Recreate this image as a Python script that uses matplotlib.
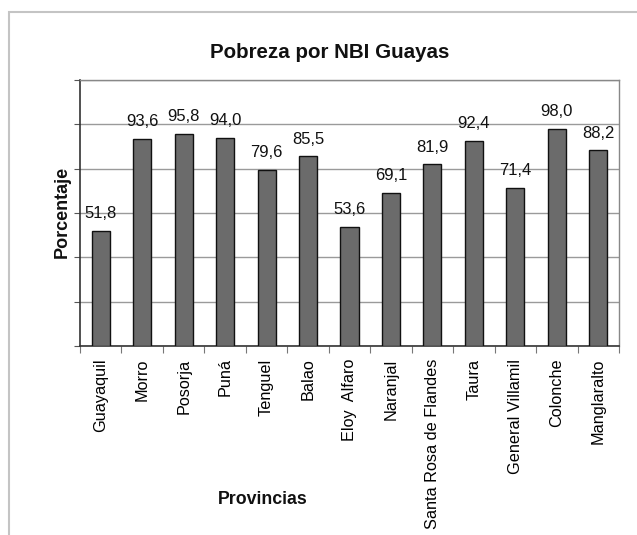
import matplotlib
matplotlib.use("Agg")
import matplotlib.pyplot as plt
from matplotlib.patches import Rectangle
import numpy as np

plt.rcParams['font.family'] = ['Liberation Sans', 'DejaVu Sans']

categorias = ["Guayaquil", "Morro", "Posorja", "Puná", "Tenguel", "Balao",
              "Eloy  Alfaro", "Naranjal", "Santa Rosa de Flandes", "Taura",
              "General Villamil", "Colonche", "Manglaralto"]
valores = [51.8, 93.6, 95.8, 94.0, 79.6, 85.5, 53.6, 69.1, 81.9, 92.4, 71.4, 98.0, 88.2]
etiquetas = ["51,8", "93,6", "95,8", "94,0", "79,6", "85,5", "53,6", "69,1",
             "81,9", "92,4", "71,4", "98,0", "88,2"]

W, H = 637, 535
fig = plt.figure(figsize=(W / 100, H / 100), dpi=100)
fig.patch.set_facecolor("white")

# outer chart border
fig.patches.append(Rectangle((9 / W, -0.05), 1.2, 1 - 12 / H + 0.05,
                             transform=fig.transFigure, fill=False,
                             edgecolor="#c4c4c4", lw=1.5, zorder=0))

left, right, top, bottom = 80, 619, 80, 346
ax = fig.add_axes([left / W, 1 - bottom / H, (right - left) / W, (bottom - top) / H])

x = np.arange(len(categorias))
ax.bar(x, valores, width=0.435, color="#6b6b6b", edgecolor="#111111", linewidth=1.0, zorder=3)

ax.set_xlim(-0.5, len(categorias) - 0.5)
ax.set_ylim(0, 120)
ax.set_yticks(np.arange(0, 121, 20))
ax.set_yticklabels([])
ax.yaxis.grid(True, color="#9a9a9a", linewidth=1.0, zorder=0)
ax.tick_params(axis="y", length=4, color="#555555", direction="out")

ax.set_xticks(np.arange(-0.5, len(categorias), 1.0))
ax.set_xticklabels([])
ax.set_xticks(x, minor=True)
ax.set_xticklabels(categorias, minor=True, rotation=90, fontsize=11.7)
ax.tick_params(axis="x", which="major", length=5, color="#777777", direction="out")
ax.tick_params(axis="x", which="minor", length=0, pad=9)

for s in ["left", "bottom"]:
    ax.spines[s].set_color("#333333")
    ax.spines[s].set_linewidth(1.2)
for s in ["top", "right"]:
    ax.spines[s].set_color("#888888")
    ax.spines[s].set_linewidth(1.0)

for xi, v, t in zip(x, valores, etiquetas):
    ax.annotate(t, (xi, v), xytext=(0, 7), textcoords="offset points",
                ha="center", va="bottom", fontsize=12, color="#111111")

fig.text(330 / W, 1 - 52 / H, "Pobreza por NBI Guayas", ha="center", va="center",
         fontsize=14.8, fontweight="bold", color="#111111")
fig.text(62 / W, 1 - 212 / H, "Porcentaje", ha="center", va="center", rotation=90,
         fontsize=13, fontweight="bold", color="#111111")
fig.text(263 / W, 1 - 500 / H, "Provincias", ha="center", va="center",
         fontsize=12.8, fontweight="bold", color="#111111")

fig.savefig("out.png", dpi=100, facecolor="white")
